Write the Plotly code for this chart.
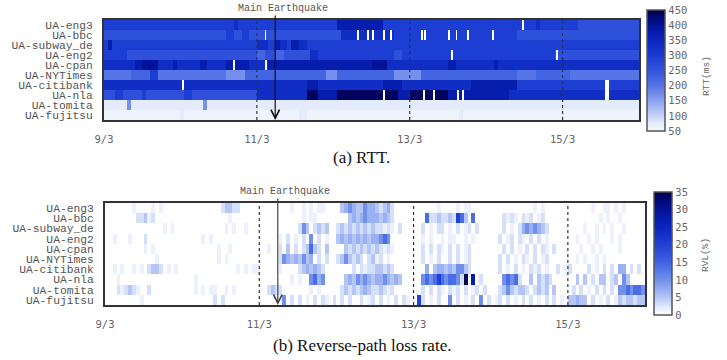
import plotly.graph_objects as go

# ---------------- data ----------------
hosts = ["UA-eng3", "UA-bbc", "UA-subway_de", "UA-eng2", "UA-cpan",
         "UA-NYTimes", "UA-citibank", "UA-nla", "UA-tomita", "UA-fujitsu"]
day_ticks = [9, 11, 13, 15]
day_labels = ["9/3", "11/3", "13/3", "15/3"]
day_start = 9.0
day_end = 16.0
quake_day = 11.24          # 11/3 05:46 UTC
col_days = 0.05            # one coarse column = 0.05 day
fine_split = 4             # fine columns per coarse column (for RTT gaps)

# RTT level codes -> ms
rtt_levels = {"a": 62, "1": 75, "2": 110, "3": 170, "4": 200, "5": 225,
              "6": 260, "7": 295, "8": 330, "9": 370, "A": 400, "B": 440}
# run-length encoded RTT per host ("code:columns"), 140 columns of 0.05 day
rtt_rle = [
    "7:34 8:1 7:26 9:12 7:37 7:3 8:1 7:10 6:16",
    "6:32 7:2 6:2 7:2 6:4 6:20 8:14 7:32 6:32",
    "7:1 9:1 7:38 8:3 7:2 9:1 8:2 7:1 9:2 8:2 7:87",
    "7:6 6:34 5:2 6:3 5:2 6:7 8:2 7:20 6:2 7:40 6:22",
    "8:8 9:2 A:4 8:4 9:1 8:6 9:2 8:5 9:6 8:5 9:27 A:4 8:16 9:2 8:10 9:1 8:37",
    "4:7 5:5 7:2 4:18 3:5 5:21 3:3 5:9 5:6 3:7 5:25 4:5 5:9 4:18",
    "8:53 9:3 8:17 9:5 8:18 9:12 7:32",
    "6:3 7:2 6:5 7:1 6:10 7:2 6:17 8:13 B:3 9:5 B:16 9:3 B:10 9:16 8:34",
    "1:6 3:1 1:19 3:1 1:113",
    "a:20 1:1 a:30 1:2 a:40 1:1 a:46",
]
# missing RTT samples (days)
rtt_gaps = [
    [14.48],
    [11.11, 12.32, 12.44, 12.52, 12.65, 12.74, 13.16, 13.20, 13.50, 13.61, 13.76, 14.08],
    [],
    [13.54, 14.92],
    [10.69, 11.12],
    [],
    [10.03, 15.56, 15.60],
    [12.65, 13.18, 13.31, 13.63, 13.69, 15.56, 15.60],
    [],
    [],
]

# loss level codes -> %
loss_levels = {".": 0, "1": 1.5, "2": 3, "3": 5, "4": 7, "5": 10,
               "6": 14, "7": 20, "8": 27, "9": 35}
# loss bursts per host: (start day, codes of consecutive 0.05-day columns)
loss_bursts = [
    [(9.35, "1"), (9.6, "1.1"), (10.5, "23322"), (11.4, "1"), (11.55, "1.1.11"),
     (12.05, "34543354432342"), (13.3, "1"), (13.55, "1.11"), (14.55, "1.1"), (15.3, "1..11.1.1")],
    [(9.4, "22312"), (10.6, "1"), (11.55, "1.11"), (12.15, "3434544"), (12.5, "43432"),
     (13.15, "6223223"), (13.5, "2763.6"), (14.15, "2121.212.12"), (15.4, "1.1..1")],
    [(9.75, "1.1"), (10.55, "1.1..1"), (11.5, "253.2323"), (12.0, "23232323232"),
     (12.55, "2121.2"), (13.1, "2.1.22.1.2.12.2"), (14.15, "2.1.2"), (14.4, "4545432"),
     (15.2, "1..1.1.1..1")],
    [(9.1, "1...1...2"), (10.25, "1.1"), (11.25, "1.2.1.2.5.2.1"), (12.0, "3434343434"),
     (12.5, "4565"), (13.1, "1.1..1.11..1.1"), (14.1, "2.12.21.2.2.1"), (15.1, "1..1.1...1.1")],
    [(9.5, "1.1"), (10.45, "1..1"), (11.1, "1"), (11.25, "2.3.2.23632.3"), (12.1, "323232323"),
     (12.55, "2121"), (13.1, "2.2.21.2.2.12"), (14.15, "2.2.1.2.2.21.2"), (15.15, "1..1.1....1")],
    [(9.65, "1"), (10.45, "1.1"), (11.25, "254343534.2.2"), (12.0, "2353232.23"),
     (12.5, "12.1"), (13.1, "2.1.2..2.2.12"), (14.1, "2.2.1.21.2.12"), (15.1, "1.1..1.1")],
    [(9.1, "1.1..1.1.2332.1.1"), (10.7, "1.1.11"), (11.25, "1"), (11.5, "2343432"),
     (12.2, "2.2122"), (12.5, "33232"), (13.15, "4.344343553"), (13.7, "2"),
     (14.1, "2.1.2.1.212.1..2.12"), (15.25, "2.1.2.2.44.2.2")],
    [(9.15, "1"), (10.15, "1"), (11.4, "1.1"), (11.65, "5645"), (12.1, "343545434"),
     (12.55, "454343"), (13.1, "5656765665"), (13.6, "29.8.2"), (14.15, "56562"),
     (14.5, "3.3232"), (15.1, "3.3.2.33.23.53")],
    [(9.15, "212321"), (9.55, "2"), (10.15, "1.1.11..1.1"), (11.1, "2322"), (11.65, "1.1"),
     (12.05, "232323432"), (12.5, "23212"), (13.1, "2.2.21.212.2.12.2"),
     (14.1, "23532332.2323.3"), (15.05, "2.2.1.2.2.2"), (15.65, "5565665")],
    [(9.45, "1"), (10.4, "2.2"), (11.3, "5.2.2.1.2.21.2.2.2..2.12."),
     (12.55, "2.1.2.21..72.1.2..5.2.1.2.5.2.12.2.1.2.2.1.2.2.1.33433.2.1.2.13233233")],
]

# ---------------- build grids ----------------
n_cols = int(round((day_end - day_start) / col_days))
n_fine = n_cols * fine_split
fine_days = col_days / fine_split

z_rtt = []
for rle, gaps in zip(rtt_rle, rtt_gaps):
    coarse = []
    for tok in rle.split():
        code, cnt = tok.split(":")
        coarse += [rtt_levels[code]] * int(cnt)
    coarse = (coarse + [coarse[-1]] * n_cols)[:n_cols]
    fine = []
    for v in coarse:
        fine += [v] * fine_split
    for g in gaps:
        i = int((g - day_start) / fine_days)
        for k in (i, i + 1):
            if 0 <= k < n_fine:
                fine[k] = None
    z_rtt.append(fine)
x_fine = [day_start + (i + 0.5) * fine_days for i in range(n_fine)]

z_loss = []
for bursts in loss_bursts:
    row = [0.0] * n_cols
    for d0, codes in bursts:
        c0 = int(round((d0 - day_start) / col_days))
        for k, ch in enumerate(codes):
            if 0 <= c0 + k < n_cols:
                row[c0 + k] = loss_levels[ch]
    z_loss.append(row)
x_coarse = [day_start + (i + 0.5) * col_days for i in range(n_cols)]

# ---------------- figure ----------------
W, H = 727, 360
def px_x(p): return p / W
def px_y(p): return 1 - p / H

rtt_scale = [[0.0, "#f9fbff"], [0.0625, "#e4ebfc"], [0.125, "#c6d3f8"], [0.25, "#8aa2f0"],
             [0.375, "#5574e6"], [0.5, "#3355de"], [0.625, "#1a3bd1"], [0.75, "#0a24bb"],
             [0.875, "#031298"], [1.0, "#000050"]]
loss_scale = [[0.0, "#ffffff"], [0.057, "#e6edfc"], [0.14, "#b6c7f6"], [0.286, "#7090ec"],
              [0.43, "#4063e2"], [0.57, "#2040d6"], [0.71, "#0a25bf"], [0.857, "#03129a"],
              [1.0, "#000050"]]

mono = "Liberation Mono"
tickmono = "DejaVu Sans Mono"

cb_common = dict(xanchor="left", yanchor="middle", lenmode="fraction",
                 thickness=18, thicknessmode="pixels", xpad=0, ypad=0,
                 outlinewidth=1.5, outlinecolor="#555", ticks="",
                 tickprefix="\u00a0\u00a0",
                 tickfont=dict(family=tickmono, size=10.5, color="#666"))

fig = go.Figure()
fig.add_trace(go.Heatmap(
    x=x_fine, y=hosts, z=z_rtt, zmin=50, zmax=450, colorscale=rtt_scale,
    xaxis="x", yaxis="y", hoverinfo="skip",
    colorbar=dict(x=px_x(647), y=px_y(70.5), len=121 / H,
                  tickvals=list(range(50, 451, 50)), **cb_common)))
fig.add_trace(go.Heatmap(
    x=x_coarse, y=hosts, z=z_loss, zmin=0, zmax=35, colorscale=loss_scale,
    xaxis="x2", yaxis="y2", hoverinfo="skip",
    colorbar=dict(x=px_x(654), y=px_y(253.5), len=123 / H,
                  tickvals=list(range(0, 36, 5)), **cb_common)))

xcommon = dict(range=[day_start, day_end], tickvals=day_ticks, ticktext=day_labels,
               showgrid=False, zeroline=False, showline=True, mirror=True,
               linewidth=1.8, linecolor="#333", ticks="outside", ticklen=8,
               tickcolor="rgba(0,0,0,0)", tickfont=dict(family=tickmono, size=10.5, color="#666"))
ycommon = dict(autorange="reversed", showgrid=False, zeroline=False, showline=True,
               mirror=True, linewidth=1.8, linecolor="#333", ticks="outside", ticklen=7,
               tickmode="array", tickvals=hosts, ticktext=hosts,
               tickcolor="rgba(0,0,0,0)", tickfont=dict(family=mono, size=11.3, color="#555"))

fig.update_layout(
    width=W, height=H, margin=dict(l=0, r=0, t=0, b=0, autoexpand=False),
    paper_bgcolor="white", plot_bgcolor="white", showlegend=False,
    xaxis=dict(domain=[px_x(104), px_x(639)], anchor="y", **xcommon),
    yaxis=dict(domain=[px_y(120), px_y(20)], anchor="x", **ycommon),
    xaxis2=dict(domain=[px_x(105), px_x(645)], anchor="y2", **xcommon),
    yaxis2=dict(domain=[px_y(305), px_y(203)], anchor="x2", **ycommon),
)

shapes = []
for d in day_ticks[1:]:
    for xr, yr in (("x", "y domain"), ("x2", "y2 domain")):
        shapes.append(dict(type="line", xref=xr, yref=yr, x0=d, x1=d, y0=0, y1=1,
                           line=dict(color="#333", width=1.2, dash="dot")))
fig.update_layout(shapes=shapes)

ann = [
    # earthquake arrows (text placed separately)
    dict(x=quake_day, xref="x", y=0, yref="y domain", ax=0, ay=-106, text="",
         showarrow=True, arrowhead=5, arrowsize=1.4, arrowwidth=1.2, arrowcolor="#111"),
    dict(x=quake_day, xref="x2", y=0, yref="y2 domain", ax=0, ay=-108, text="",
         showarrow=True, arrowhead=5, arrowsize=1.4, arrowwidth=1.2, arrowcolor="#444"),
    dict(x=px_x(283), y=px_y(8), xref="paper", yref="paper", text="Main Earthquake",
         xanchor="center", yanchor="middle", showarrow=False,
         font=dict(family=mono, size=10, color="#555")),
    dict(x=px_x(285), y=px_y(191), xref="paper", yref="paper", text="Main Earthquake",
         xanchor="center", yanchor="middle", showarrow=False,
         font=dict(family=mono, size=10, color="#555")),
    dict(x=px_x(706), y=px_y(76), xref="paper", yref="paper", text="RTT(ms)", textangle=-90,
         xanchor="center", yanchor="middle",
         showarrow=False, font=dict(family=mono, size=9.5, color="#666")),
    dict(x=px_x(705), y=px_y(255), xref="paper", yref="paper", text="RVL(%)", textangle=-90,
         xanchor="center", yanchor="middle",
         showarrow=False, font=dict(family=mono, size=9.5, color="#666")),
    dict(x=px_x(361), y=px_y(157), xref="paper", yref="paper", text="(a) RTT.",
         xanchor="center", yanchor="middle",
         showarrow=False, font=dict(family="Liberation Serif", size=17, color="#111")),
    dict(x=px_x(362), y=px_y(345), xref="paper", yref="paper", text="(b) Reverse-path loss rate.",
         xanchor="center", yanchor="middle",
         showarrow=False, font=dict(family="Liberation Serif", size=17, color="#111")),
]
fig.update_layout(annotations=ann)

fig.write_html("out.html")
